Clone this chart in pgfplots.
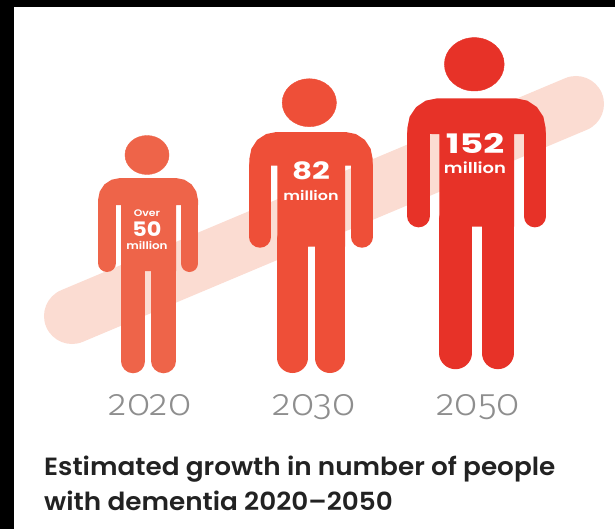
\documentclass[border=0pt]{standalone}
\usepackage{fontspec}
\usepackage{pgfplots}
\pgfplotsset{compat=1.18}
\setmainfont{Poppins}[BoldFont={Poppins SemiBold}]
\newfontfamily\yearfont{Fira Sans Light}[Numbers=OldStyle]
\newfontfamily\numfont{Poppins Bold}

\definecolor{band}{HTML}{FBDCD2}
\definecolor{pa}{HTML}{EE6449}
\definecolor{pb}{HTML}{EE4F38}
\definecolor{pc}{HTML}{E73228}
\definecolor{yeargrey}{HTML}{8E8E8E}
\definecolor{titleblack}{HTML}{222222}

\begin{document}
\begin{tikzpicture}
\path[use as bounding box] (0,0) rectangle (615bp,529bp);
\begin{axis}[
at={(0,0)}, anchor=south west,
hide axis,
scale only axis,
width=615bp, height=529bp,
xmin=0, xmax=615,
ymin=0, ymax=529,
y dir=reverse,
clip=true,
line cap=round,
]
% black frame left and top of the screenshot
\addplot [draw=none, fill=black] coordinates {(0,0) (14,0) (14,529) (0,529)} --cycle;
\addplot [draw=none, fill=black] coordinates {(0,0) (615,0) (615,7) (0,7)} --cycle;

% rising band behind the figures
\addplot [band, line width=56bp] coordinates {(72,316) (576,104)};

% 2020
\addplot [pa, only marks, mark=*, mark size=19.5bp, mark options={xscale=1.13, draw=none, fill=pa}] coordinates {(147,155)};
\addplot [draw=none, fill=pa] coordinates {(98,205) (98,200) (99.7,191.6) (104.4,184.4) (111.6,179.7) (120,178) (176,178) (184.4,179.7) (191.6,184.4) (196.3,191.6) (198,200) (198,205) (176,205) (176,271) (121,271) (121,205)} --cycle;
\addplot [pa, line width=18bp] coordinates {(107,205) (107,263)};
\addplot [pa, line width=17bp] coordinates {(189.5,205) (189.5,263.5)};
\addplot [pa, line width=24.5bp] coordinates {(133.2,265) (133.2,361)};
\addplot [pa, line width=24.5bp] coordinates {(163.7,265) (163.7,361)};

% 2030
\addplot [pb, only marks, mark=*, mark size=24bp, mark options={xscale=1.13, draw=none, fill=pb}] coordinates {(309.3,102.7)};
\addplot [draw=none, fill=pb] coordinates {(249.3,165.7) (249.3,159) (251.4,148.7) (257.2,139.9) (266,134.1) (276.3,132) (345.7,132) (356,134.1) (364.8,139.9) (370.6,148.7) (372.7,159) (372.7,165.7) (345,165.7) (345,246.7) (277.3,246.7) (277.3,165.7)} --cycle;
\addplot [pb, line width=21.4bp] coordinates {(260,165.7) (260,237)};
\addplot [pb, line width=21.4bp] coordinates {(362,165.7) (362,237)};
\addplot [pb, line width=30.4bp] coordinates {(292.5,240) (292.5,357.8)};
\addplot [pb, line width=30.4bp] coordinates {(329.8,240) (329.8,357.8)};

% 2050
\addplot [pc, only marks, mark=*, mark size=26.7bp, mark options={xscale=1.12, draw=none, fill=pc}] coordinates {(474.3,64.3)};
\addplot [draw=none, fill=pc] coordinates {(407.3,134) (407.3,128.3) (409.6,116.8) (416.1,107.1) (425.8,100.6) (437.3,98.3) (515.7,98.3) (527.2,100.6) (536.9,107.1) (543.4,116.8) (545.7,128.3) (545.7,134) (514,134) (514,226.7) (439.3,226.7) (439.3,134)} --cycle;
\addplot [pc, line width=22.7bp] coordinates {(418.6,134) (418.6,216)};
\addplot [pc, line width=21.7bp] coordinates {(534.8,134) (534.8,216.5)};
\addplot [pc, line width=32.4bp] coordinates {(455.5,220) (455.5,353)};
\addplot [pc, line width=32.3bp] coordinates {(497.8,220) (497.8,353)};

% labels on the figures
\node [white, xscale=1.15, font=\bfseries\fontsize{9.5}{10}\selectfont] at (axis cs:147,213) {Over};
\node [white, xscale=1.12, font=\numfont\fontsize{20}{22}\selectfont] at (axis cs:147,229) {50};
\node [white, xscale=1.14, font=\bfseries\fontsize{10.5}{12}\selectfont] at (axis cs:147,245) {million};
\node [white, xscale=1.3, font=\numfont\fontsize{24}{26}\selectfont] at (axis cs:311,171) {82};
\node [white, xscale=1.23, font=\bfseries\fontsize{13}{15}\selectfont] at (axis cs:311,195) {million};
\node [white, xscale=1.36, font=\numfont\fontsize{27}{30}\selectfont] at (axis cs:475,143) {152};
\node [white, xscale=1.2, font=\bfseries\fontsize{15}{17}\selectfont] at (axis cs:475,168) {million};

% years
\node [yeargrey, anchor=base, inner sep=0pt, xscale=1.05, font=\yearfont\fontsize{37}{39}\selectfont] at (axis cs:150,415) {2020};
\node [yeargrey, anchor=base, inner sep=0pt, xscale=1.05, font=\yearfont\fontsize{37}{39}\selectfont] at (axis cs:314,415) {2030};
\node [yeargrey, anchor=base, inner sep=0pt, xscale=1.05, font=\yearfont\fontsize{37}{39}\selectfont] at (axis cs:478,415) {2050};

% title
\node [titleblack, anchor=base west, inner sep=0pt, xscale=1.055, font=\bfseries\fontsize{25}{27}\selectfont] at (axis cs:44,475) {Estimated growth in number of people};
\node [titleblack, anchor=base west, inner sep=0pt, xscale=1.055, font=\bfseries\fontsize{25}{27}\selectfont] at (axis cs:44,510) {with dementia 2020–2050};
\end{axis}
\end{tikzpicture}
\end{document}
